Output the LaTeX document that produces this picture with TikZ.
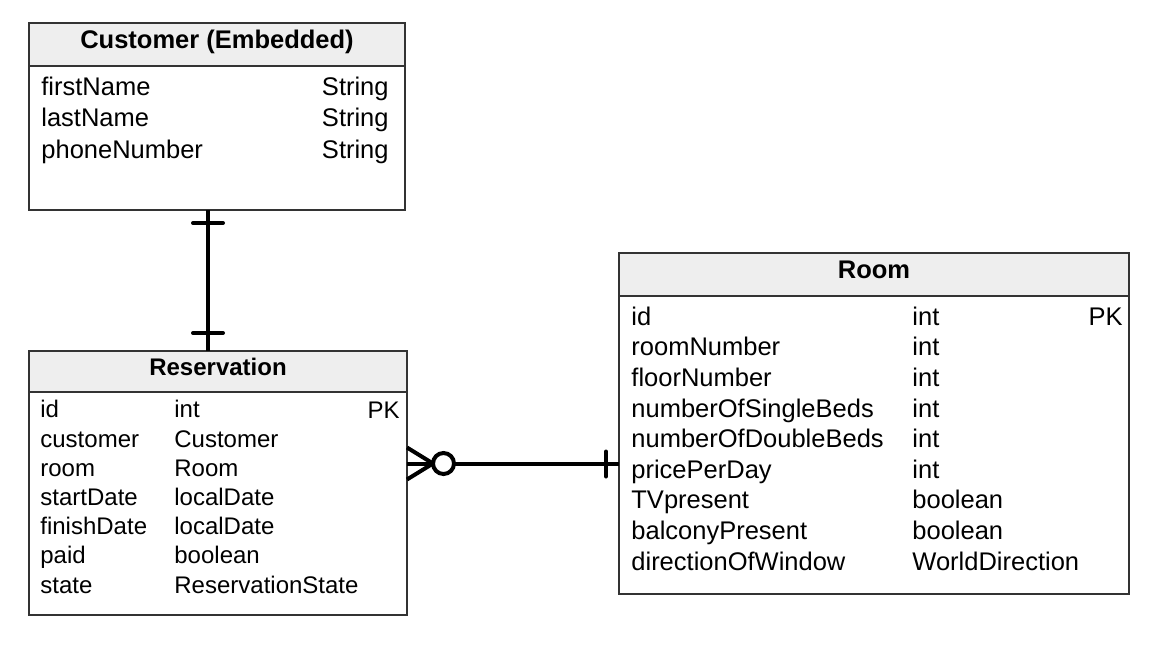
\documentclass[tikz,border=0pt]{standalone}
\usepackage{fontspec}
\setmainfont{Liberation Sans}
\usepackage{xcolor}
\usetikzlibrary{positioning}
\definecolor{headgray}{HTML}{EEEEEE}
\definecolor{edgegray}{HTML}{333333}

\begin{document}
\begin{tikzpicture}[x=0.5pt,y=-0.5pt,
    head/.style={rectangle, draw=edgegray, fill=headgray, line width=0.8pt, inner sep=0pt, outer sep=0pt, font=\fontsize{12.75}{15}\selectfont\bfseries, text height=9pt, text depth=5.5pt},
    body/.style={rectangle, draw=edgegray, line width=0.8pt, inner sep=0pt, outer sep=0pt},
    col/.style={inner sep=0pt, font=\fontsize{12.75}{#1}\selectfont},
    resvcol/.style={inner sep=0pt, font=\fontsize{12}{14.6}\selectfont},
    rel/.style={line width=2pt},
    tick/.style={line width=2pt, line cap=round}]
      \useasboundingbox (0,0) rectangle (1155,665);
      % tables (columns sit on the baseline of their last line)
      \node (custhead) [head, minimum width=188pt, minimum height=21.5pt, anchor=north west] at (29,23) {Customer (Embedded)};
      \node (custbody) [body, minimum width=188pt, minimum height=72pt, below=0pt of custhead] {};
      \node (custnames) [col=15.75, align=left, anchor=base west] at (41,158) {firstName\\lastName\\phoneNumber};
      \node (custtypes) [col=15.75, align=right, anchor=base east] at (389,158) {String\\String\\String};

      \node (resvhead) [head, font=\fontsize{12}{15}\selectfont\bfseries, minimum width=189pt, minimum height=20.5pt, anchor=north west] at (29,351) {Reservation};
      \node (resvbody) [body, minimum width=189pt, minimum height=111.5pt, below=0pt of resvhead] {};
      \node (resvnames) [resvcol, align=left, anchor=base west] at (40,593) {id\\customer\\room\\startDate\\finishDate\\paid\\state};
      \node (resvtypes) [resvcol, align=left, anchor=base west] at (174,593) {int\\Customer\\Room\\localDate\\localDate\\boolean\\ReservationState};
      \node (resvkey) [resvcol, anchor=base east] at (400,418) {PK};

      \node (roomhead) [head, minimum width=255pt, minimum height=21.5pt, anchor=north west] at (619,253) {Room};
      \node (roombody) [body, minimum width=255pt, minimum height=149pt, below=0pt of roomhead] {};
      \node (roomnames) [col=15.3, align=left, anchor=base west] at (631,570) {id\\roomNumber\\floorNumber\\numberOfSingleBeds\\numberOfDoubleBeds\\pricePerDay\\TVpresent\\balconyPresent\\directionOfWindow};
      \node (roomtypes) [col=15.3, align=left, anchor=base west] at (912,570) {int\\int\\int\\int\\int\\int\\boolean\\boolean\\WorldDirection};
      \node (roomkey) [col=15.3, anchor=base east] at (1123,325) {PK};

      % relations
      \coordinate (custlink) at (208,0);
      \coordinate (roomlink) at (0,463.5);
      \draw[rel] (custbody.south -| custlink) -- (resvhead.north -| custlink);
      \draw[tick] (custbody.south -| custlink) ++(-15,13) -- ++(30,0);
      \draw[tick] (resvhead.north -| custlink) ++(-15,-18) -- ++(30,0);
      \draw[rel] (resvbody.east |- roomlink) -- (roombody.west |- roomlink);
      \draw[rel] (resvbody.east |- roomlink) ++(0,-16) -- ++(26,16) -- ++(-26,16);
      \draw[rel, fill=white] (resvbody.east |- roomlink) ++(36.5,0) circle (5.25pt);
      \draw[tick] (roombody.west |- roomlink) ++(-13,-12) -- ++(0,25);
\end{tikzpicture}
\end{document}
